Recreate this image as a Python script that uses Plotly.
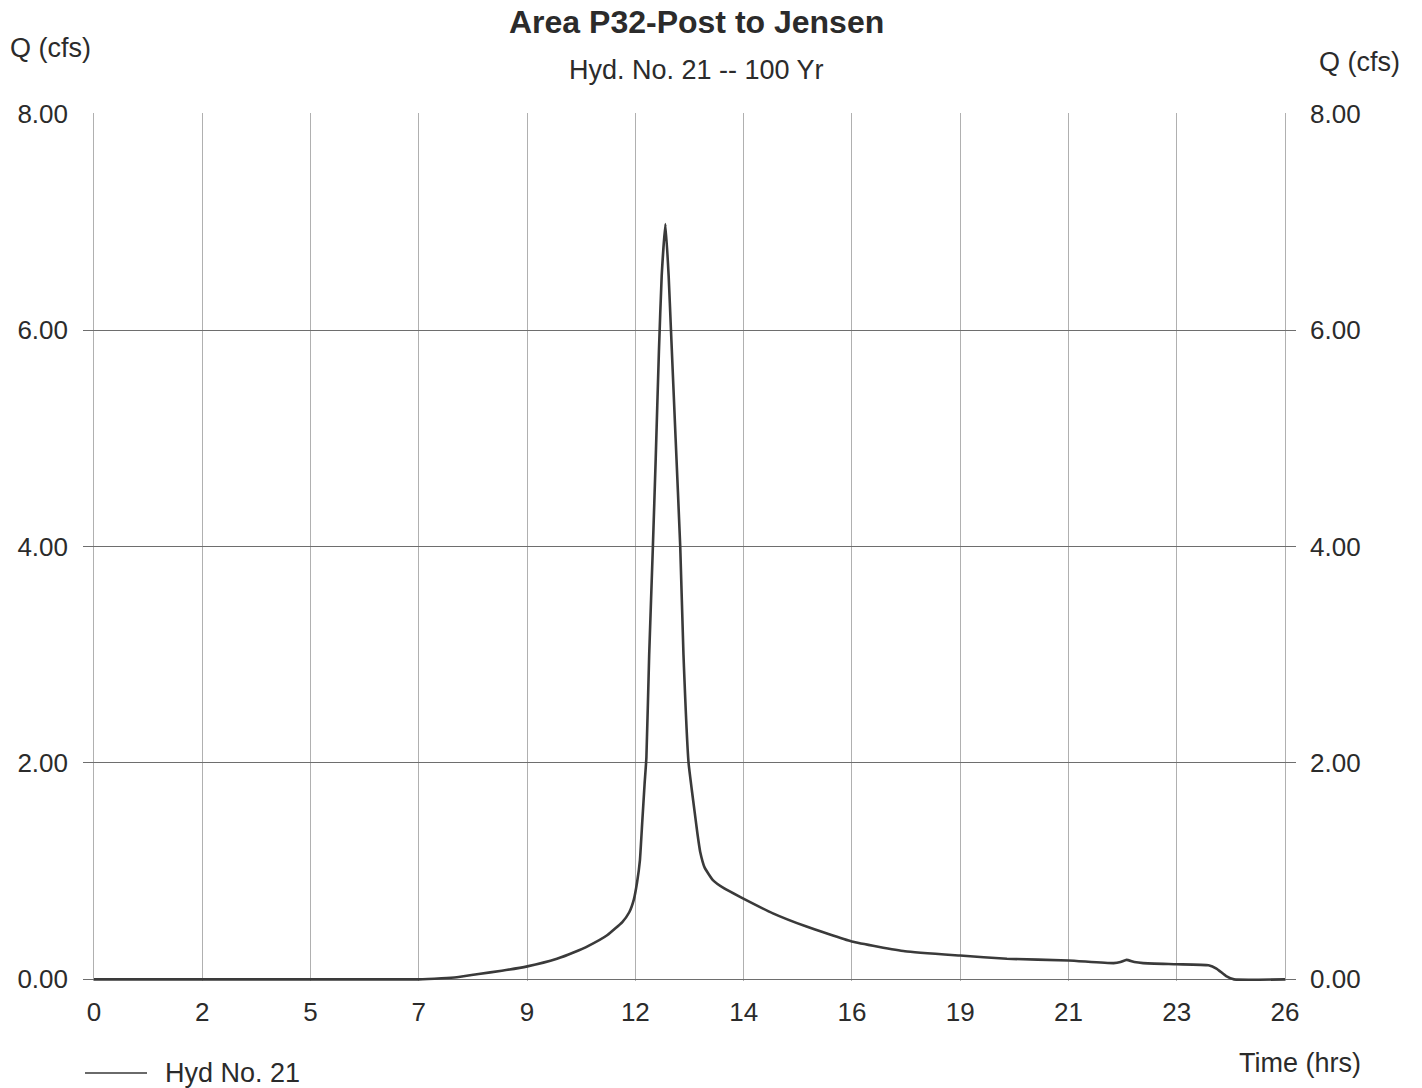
import plotly.graph_objects as go

# ---- data ----
TIME_HRS = [0.0, 1.0, 2.0, 3.0, 4.0, 5.0, 6.0, 7.0, 7.5, 7.83, 8.3, 8.8, 9.35, 9.99,
            10.36, 10.67, 11.08, 11.40, 11.55, 11.65, 11.72, 11.78, 11.83, 11.88, 11.92,
            11.98, 12.06, 12.12, 12.19, 12.25, 12.33, 12.40, 12.45, 12.55, 12.65, 12.72,
            12.83, 12.90, 12.96, 13.02, 13.08, 13.18, 13.35, 13.60, 13.95, 14.65, 15.36,
            16.35, 17.50, 18.69, 19.70, 21.03, 22.00, 22.15, 22.28, 22.45, 22.64,
            23.36, 24.05, 24.22, 24.43, 24.60, 25.70]
FLOW_CFS = [0.00, 0.00, 0.00, 0.00, 0.00, 0.00, 0.00, 0.00, 0.01, 0.02, 0.05, 0.08, 0.12, 0.19,
            0.25, 0.31, 0.41, 0.53, 0.62, 0.74, 0.90, 1.10, 1.45, 1.80, 2.05,
            3.00, 4.00, 4.80, 5.80, 6.50, 6.98, 6.50, 6.00, 5.00, 4.00, 3.00,
            2.00, 1.75, 1.55, 1.35, 1.18, 1.03, 0.92, 0.84, 0.76, 0.61, 0.49,
            0.35, 0.26, 0.22, 0.19, 0.175, 0.15, 0.16, 0.18, 0.16, 0.15,
            0.14, 0.13, 0.10, 0.03, 0.00, 0.00]

T_MAX = 25.7
X_TICK_LABELS = ["0", "2", "5", "7", "9", "12", "14", "16", "19", "21", "23", "26"]
Y_TICKS = [0, 2, 4, 6, 8]

TITLE = "Area P32-Post to Jensen"
SUBTITLE = "Hyd. No. 21 -- 100 Yr"
SERIES_NAME = "Hyd No. 21"

# ---- figure ----
FONT = "Liberation Sans, Arial, sans-serif"
TXT = "#2b2b2b"
LINE = "#3a3a3a"
FS = 26

n = len(X_TICK_LABELS) - 1
x_tickvals = [T_MAX * k / n for k in range(n + 1)]
pad = 0.237

fig = go.Figure()
fig.add_trace(go.Scatter(x=TIME_HRS, y=FLOW_CFS, mode="lines", name=SERIES_NAME,
                         line=dict(color=LINE, width=2.6, shape="spline", smoothing=0.4),
                         showlegend=False))
fig.add_trace(go.Scatter(x=TIME_HRS, y=FLOW_CFS, mode="lines", yaxis="y2",
                         line=dict(color="rgba(0,0,0,0)", width=0), showlegend=False,
                         hoverinfo="skip"))

yr = [-0.015, 8.005]
fig.update_layout(
    width=1422, height=1088,
    margin=dict(l=83, r=126, t=113, b=107),
    paper_bgcolor="white", plot_bgcolor="white",
    font=dict(family=FONT, size=FS, color=TXT),
    xaxis=dict(range=[-pad, T_MAX + pad], tickvals=x_tickvals, ticktext=X_TICK_LABELS,
               showgrid=True, gridcolor="#b0b0b0", gridwidth=1, zeroline=False,
               showline=False, ticks="", ticklabelstandoff=13,
               tickfont=dict(size=FS, color=TXT)),
    yaxis=dict(range=yr, tickvals=Y_TICKS, tickformat=".2f", showgrid=True,
               gridcolor="#6e6e6e", gridwidth=1, zeroline=False, showline=False,
               ticks="", ticklabelstandoff=14, tickfont=dict(size=FS, color=TXT)),
    yaxis2=dict(range=yr, tickvals=Y_TICKS, tickformat=".2f", overlaying="y", side="right",
                showgrid=False, zeroline=False, showline=False, ticks="",
                ticklabelstandoff=13, tickfont=dict(size=FS, color=TXT)),
    showlegend=False,
)

def px(xp):
    return (xp - 83) / 1213

def py(yp):
    return (981 - yp) / 868

ann = [
    dict(text="<b>" + TITLE + "</b>", x=px(696), y=py(22), font=dict(size=32, color=TXT),
         xanchor="center", yanchor="middle"),
    dict(text=SUBTITLE, x=px(696), y=py(70), font=dict(size=27, color=TXT),
         xanchor="center", yanchor="middle"),
    dict(text="Q (cfs)", x=px(8), y=py(48), font=dict(size=FS + 1, color=TXT),
         xanchor="left", yanchor="middle"),
    dict(text="Q (cfs)", x=px(1402), y=py(62), font=dict(size=FS + 1, color=TXT),
         xanchor="right", yanchor="middle"),
    dict(text="Time (hrs)", x=px(1363), y=py(1063), font=dict(size=FS + 1, color=TXT),
         xanchor="right", yanchor="middle"),
    dict(text=SERIES_NAME, x=px(163), y=py(1073), font=dict(size=FS + 1, color=TXT),
         xanchor="left", yanchor="middle"),
]
for a in ann:
    a.update(xref="paper", yref="paper", showarrow=False)
fig.update_layout(annotations=ann)
fig.add_shape(type="line", xref="paper", yref="paper", x0=px(85), x1=px(147),
              y0=py(1073), y1=py(1073), line=dict(color="#6a6a6a", width=2))

fig.write_html("out.html")
